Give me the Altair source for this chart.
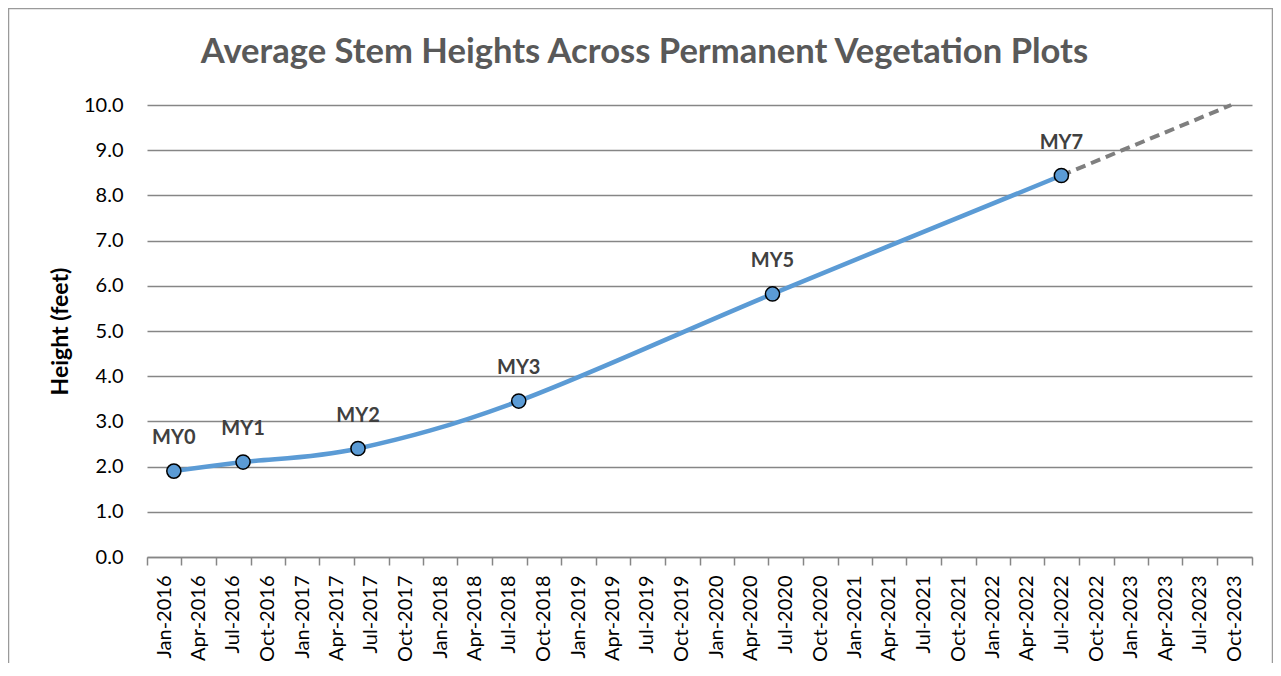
import altair as alt
import pandas as pd

labels = ["MY0", "MY1", "MY2", "MY3", "MY5", "MY7"]
dates = ["2016-03-12", "2016-09-11", "2017-07-12", "2018-09-10", "2020-07-12", "2022-08-15"]
heights = [1.90, 2.10, 2.40, 3.45, 5.82, 8.44]

proj_dates = ["2022-08-15", "2023-11-07"]
proj_heights = [8.44, 10.0]

tick_years = list(range(2016, 2024))
tick_months = [1, 4, 7, 10]
y_ticks = [0, 1, 2, 3, 4, 5, 6, 7, 8, 9, 10]

FONT = "Lato"
BLUE = "#5B9BD5"
GRID = "#868686"

df = pd.DataFrame({"date": dates, "height": heights, "label": labels})
proj = pd.DataFrame({"date": proj_dates, "height": proj_heights})
frame_df = pd.DataFrame({"k": [0]})


def ms(y, m):
    return int(pd.Timestamp(year=y, month=m, day=1, tz="UTC").value // 10**6)


x_values = [ms(y, m) for y in tick_years for m in tick_months] + [ms(2024, 1)]

x_scale = alt.Scale(type="utc", domain=[ms(2016, 1), ms(2024, 1)])
y_scale = alt.Scale(domain=[0, 10], nice=False)

x_axis = alt.Axis(
    values=x_values,
    labelExpr="datum.value >= utc(2024,0,1) ? '' : utcFormat(datum.value, '%b-%Y')",
    labelAngle=-90,
    labelOffset=17,
    labelFontSize=20,
    labelFont=FONT,
    labelColor="#000000",
    labelPadding=10,
    tickSize=8,
    tickColor=GRID,
    tickWidth=1.5,
    domainColor=GRID,
    domainWidth=1.5,
    grid=False,
    title=None,
    labelOverlap=False,
    labelFlush=False,
    labelBound=False,
)
y_axis = alt.Axis(
    values=y_ticks,
    format=".1f",
    labelFontSize=20,
    labelFont=FONT,
    labelColor="#000000",
    labelPadding=24,
    ticks=False,
    domain=False,
    grid=True,
    gridColor=GRID,
    gridWidth=1.5,
    title="Height (feet)",
    titleFont=FONT,
    titleFontSize=23,
    titleFontWeight="bold",
    titleColor="#000000",
    titlePadding=11,
)

x_enc = alt.X("date:T", scale=x_scale, axis=x_axis)
y_enc = alt.Y("height:Q", scale=y_scale, axis=y_axis)

frame = alt.Chart(frame_df).mark_rect(fill=None, stroke="#9a9a9a", strokeWidth=1.5).encode(
    x=alt.value(-138.5), x2=alt.value(1125.5), y=alt.value(-96.5), y2=alt.value(700)
)

base = alt.Chart(df)

line = base.mark_line(color=BLUE, strokeWidth=4.5, interpolate="cardinal", tension=0).encode(
    x=x_enc, y=y_enc
)

dash = alt.Chart(proj).mark_line(color="#7f7f7f", strokeWidth=4, strokeDash=[10, 6]).encode(
    x=x_enc, y=y_enc
)

points = base.mark_point(
    shape="circle", size=200, filled=True, fill=BLUE, stroke="#000000", strokeWidth=1.5, opacity=1
).encode(x=x_enc, y=y_enc)

text = base.mark_text(
    font=FONT, fontSize=20, fontWeight="bold", color="#404040", dy=-33, baseline="middle"
).encode(x=x_enc, y=y_enc, text="label:N")

chart = alt.layer(frame, line, dash, points, text).properties(
    width=1105,
    height=452,
    padding={"left": 139, "top": 97, "right": 21, "bottom": 106},
    autosize=alt.AutoSizeParams(type="none"),
    title=alt.TitleParams(
        "Average Stem Heights Across Permanent Vegetation Plots",
        font=FONT, fontSize=34.6, fontWeight="bold", color="#595959",
        anchor="middle", frame="group", dx=-55, offset=-89.5, baseline="alphabetic",
    ),
    background="white",
).configure_view(stroke=None)

chart.save("out.html", embed_options={"renderer": "svg", "actions": False})
